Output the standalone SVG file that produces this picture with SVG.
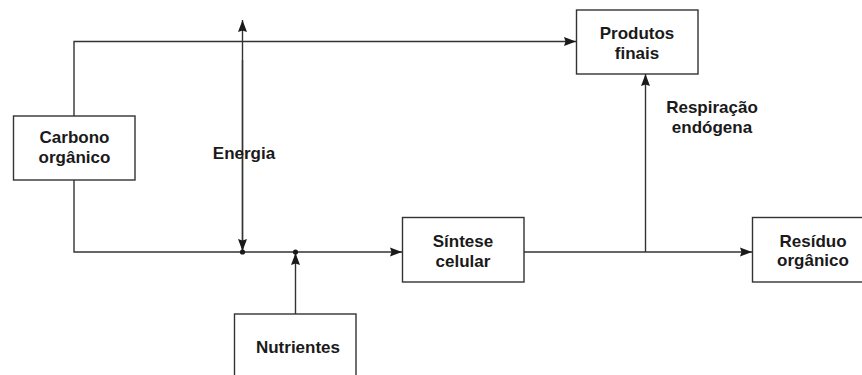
<svg xmlns="http://www.w3.org/2000/svg" width="862" height="375" viewBox="0 0 862 375">
<style>
.box{fill:#fff;stroke:#333;stroke-width:1.4}
.ln{fill:none;stroke:#333;stroke-width:1.4}
.t{font-family:"Liberation Sans",Arial,sans-serif;font-weight:bold;font-size:17px;fill:#1a1a1a;text-anchor:middle}
.dot{fill:#1a1a1a}
</style>
<defs>
<marker id="ah" viewBox="0 0 12 10" refX="12" refY="5" markerWidth="12" markerHeight="10" markerUnits="userSpaceOnUse" orient="auto-start-reverse">
<path d="M0,0.5 L12,5 L0,9.5 L1.5,5 Z" fill="#1a1a1a"/>
</marker>
</defs>
<rect width="862" height="375" fill="#fff"/>
<g id="connectors">
<polyline class="ln" points="74,116 74,41.5 576,41.5" marker-end="url(#ah)"/>
<polyline class="ln" points="74,180 74,252 402,252" marker-end="url(#ah)"/>
<line class="ln" x1="242.5" y1="250" x2="242.5" y2="20" marker-end="url(#ah)"/>
<line class="ln" x1="242.5" y1="60" x2="242.5" y2="251" marker-end="url(#ah)"/>
<line class="ln" x1="295.5" y1="314" x2="295.5" y2="253" marker-end="url(#ah)"/>
<line class="ln" x1="524" y1="252" x2="752" y2="252" marker-end="url(#ah)"/>
<line class="ln" x1="645.5" y1="252" x2="645.5" y2="74" marker-end="url(#ah)"/>
<circle class="dot" cx="242.5" cy="252" r="2.6"/>
<circle class="dot" cx="295.5" cy="252" r="2.6"/>
<text class="t" x="244" y="159">Energia</text>
<text class="t" x="712" y="113">Respiração</text>
<text class="t" x="712" y="133">endógena</text>
</g>
<g id="carbono">
<rect class="box" x="13.5" y="116" width="121.5" height="64"/>
<text class="t" x="74.5" y="143">Carbono</text>
<text class="t" x="74.5" y="163">orgânico</text>
</g>
<g id="produtos">
<rect class="box" x="576.5" y="10" width="121.5" height="64"/>
<text class="t" x="637" y="39">Produtos</text>
<text class="t" x="637" y="59">finais</text>
</g>
<g id="sintese">
<rect class="box" x="402.5" y="217.5" width="121.5" height="64.5"/>
<text class="t" x="463" y="246.5">Síntese</text>
<text class="t" x="463" y="266.5">celular</text>
</g>
<g id="residuo">
<rect class="box" x="752.5" y="217.5" width="121.5" height="64.5"/>
<text class="t" x="813" y="246.5">Resíduo</text>
<text class="t" x="813" y="265.5">orgânico</text>
</g>
<g id="nutrientes">
<rect class="box" x="234.5" y="314" width="121.5" height="65"/>
<text class="t" x="298" y="353">Nutrientes</text>
</g>
</svg>
